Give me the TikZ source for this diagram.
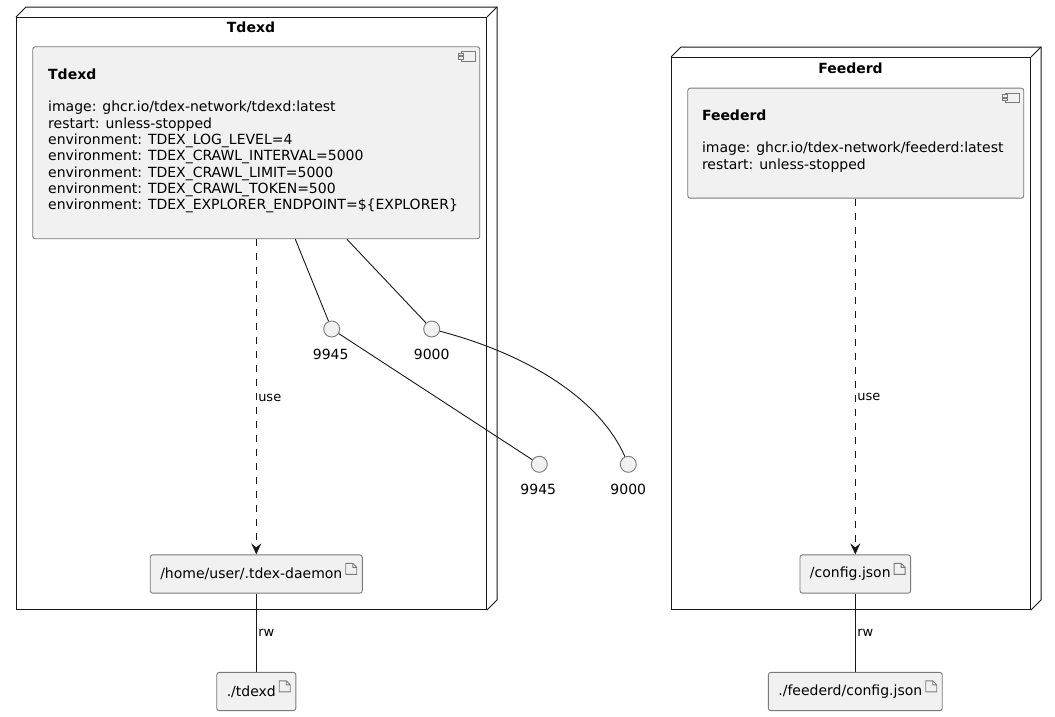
\documentclass[tikz,border=0pt]{standalone}
\usepackage{fontspec}
\setmainfont{DejaVu Sans}
\usetikzlibrary{arrows.meta,calc}
\definecolor{ink}{HTML}{181818}
\definecolor{boxfill}{HTML}{F1F1F1}
\definecolor{rim}{HTML}{7A7A7A}
\tikzset{
  host/.style={draw=ink, line width=1, fill=white, inner sep=0, anchor=north west},
  hostline/.style={draw=ink, line width=1, line join=miter},
  hosttitle/.style={font=\fontsize{14}{16.3}\selectfont\bfseries, anchor=base, inner sep=0},
  component/.style={draw=rim, line width=0.9, fill=boxfill, rounded corners=2.5,
    inner sep=0, anchor=north west},
  comptext/.style={font=\fontsize{14}{16.3}\selectfont, align=left, anchor=north west, inner sep=0},
  compicon/.style={draw=rim, line width=0.8, fill=boxfill, sharp corners},
  artifact/.style={draw=rim, line width=0.9, fill=boxfill, rounded corners=2.5,
    font=\fontsize{14}{16.3}\selectfont, minimum height=38.3,
    inner ysep=0, inner xsep=0,
    execute at begin node={\hspace*{10pt}}, execute at end node={\hspace*{20pt}},
    path picture={
      \coordinate (ic) at ($(path picture bounding box.north east)+(-16.5,8.5)$);
      \draw[rim, line width=0.8, line join=miter, sharp corners]
        (ic) -- ++(7,0) -- ++(4,4) -- ++(0,7) -- ++(-11,0) -- cycle
        (ic) ++(7,0) -- ++(0,4) -- ++(4,0);
    }},
  port/.style={circle, draw=rim, line width=0.9, fill=boxfill, minimum size=16, inner sep=0},
  portlabel/.style={font=\fontsize{14}{16.3}\selectfont, inner sep=0},
  conn/.style={draw=ink, line width=0.9},
  usearrow/.style={draw=ink, line width=0.9, dash pattern=on 7pt off 7pt,
    -{Stealth[length=11pt, width=10pt, inset=4pt]}},
  linklabel/.style={font=\fontsize{13}{15}\selectfont, anchor=west, inner sep=0},
}

\newcommand{\compglyph}[1]{%
  \draw[compicon] ($(#1.north east)+(-19.3,5.4)$) rectangle ($(#1.north east)+(-5,14.7)$);
  \draw[compicon] ($(#1.north east)+(-21.8,7)$) rectangle ($(#1.north east)+(-17.3,9.4)$);
  \draw[compicon] ($(#1.north east)+(-21.8,10.4)$) rectangle ($(#1.north east)+(-17.3,12.8)$);
}

\begin{document}
\begin{tikzpicture}[x=1pt, y=-1pt]
\useasboundingbox (0,0) rectangle (1055,716);
\fill[white] (0,0) rectangle (1055,716);

% ---- deployment nodes ----
\node[host, minimum width=470, minimum height=592] (tdexdhost) at (16,17) {};
\node[host, minimum width=359, minimum height=552] (feederdhost) at (671,57) {};
\foreach \n in {tdexdhost,feederdhost}{
  \draw[hostline] (\n.north west) -- ++(10,-10) -- ($(\n.north east)+(10,-10)$)
    -- ($(\n.south east)+(10,-10)$) -- (\n.south east);
  \draw[hostline] (\n.north east) -- ++(10,-10);
}
\node[hosttitle] (tdexdhosttitle) at (251,32.3) {Tdexd};
\node[hosttitle] (feederdhosttitle) at (850.5,73.3) {Feederd};

% ---- components ----
\node[component, minimum width=447, minimum height=192] (tdexd) at (32.3,46.3) {};
\compglyph{tdexd}
\node[comptext] (tdexdtext) at ($(tdexd.north west)+(15.7,22.2)$)
  {\textbf{Tdexd}\\ \\
   image: ghcr.io/tdex-network/tdexd:latest\\
   restart: unless-stopped\\
   environment: TDEX\_LOG\_LEVEL=4\\
   environment: TDEX\_CRAWL\_INTERVAL=5000\\
   environment: TDEX\_CRAWL\_LIMIT=5000\\
   environment: TDEX\_CRAWL\_TOKEN=500\\
   environment: TDEX\_EXPLORER\_ENDPOINT=\$\{EXPLORER\}};

\node[component, minimum width=336, minimum height=110] (feederd) at (687.3,87.7) {};
\compglyph{feederd}
\node[comptext] (feederdtext) at ($(feederd.north west)+(14.5,21.7)$)
  {\textbf{Feederd}\\ \\
   image: ghcr.io/tdex-network/feederd:latest\\
   restart: unless-stopped};

% ---- volumes ----
\node[artifact] (tdexdstore) at (256.3,574) {/home/user/.tdex-daemon};
\node[artifact] (tdexdvol) at (256.3,691.5) {./tdexd};
\node[artifact] (feederdstore) at (855.3,574) {/config.json};
\node[artifact] (feederdvol) at (855.3,691.5) {./feederd/config.json};

% ---- ports ----
\node[port] (p9945) at (331.7,329) {};
\node[port] (p9000) at (431.7,329) {};
\node[port] (q9945) at (539.3,464.3) {};
\node[port] (q9000) at (628.3,464.3) {};
\node[portlabel] (lp9945) at (330.7,354.3) {9945};
\node[portlabel] (lp9000) at (431.7,354.3) {9000};
\node[portlabel] (lq9945) at (538.3,489.3) {9945};
\node[portlabel] (lq9000) at (628.3,489.3) {9000};

% ---- connectors ----
\draw[conn] (tdexd) -- (p9945);
\draw[conn] (tdexd) -- (p9000);
\draw[conn] (p9945) -- (q9945);
\draw[conn] (p9000) .. controls (530,355) and (600,400) .. (q9000);

\draw[usearrow] (tdexd.south -| tdexdstore.north) -- (tdexdstore.north)
  node[linklabel, pos=0.503, xshift=1.5] (tdexduse) {use};
\draw[conn] (tdexdstore) -- (tdexdvol)
  node[linklabel, pos=0.5, xshift=1.5] (tdexdrw) {rw};

\draw[usearrow] (feederd.south -| feederdstore.north) -- (feederdstore.north)
  node[linklabel, pos=0.558, xshift=1.5] (feederduse) {use};
\draw[conn] (feederdstore) -- (feederdvol)
  node[linklabel, pos=0.5, xshift=1.5] (feederdrw) {rw};
\end{tikzpicture}
\end{document}
